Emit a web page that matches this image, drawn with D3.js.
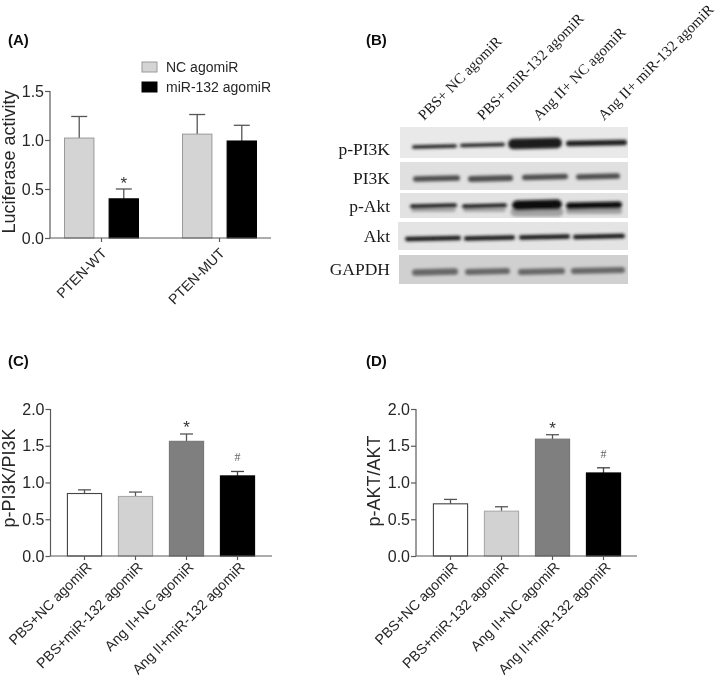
<!DOCTYPE html>
<html><head><meta charset="utf-8">
<script src="https://cdn.jsdelivr.net/npm/d3@7"></script>
<style>
html,body{margin:0;padding:0;background:#fff}
svg{display:block}
text{font-family:"Liberation Sans",Arial,sans-serif;fill:#262626}
.serif{font-family:"Liberation Serif","Times New Roman",serif;fill:#1a1a1a}
</style></head><body>
<svg id="c" width="720" height="680"></svg>
<script>
// ---- data ----
const lucGroups = ["PTEN-WT","PTEN-MUT"];
const lucSeries = ["NC agomiR","miR-132 agomiR"];
const lucNC = [1.02,1.06];
const lucNCTop = [1.24,1.26];
const lucMiR = [0.40,0.99];
const lucMiRTop = [0.50,1.15];
const lucMarks = ["","*","",""];
const lucTicks = [0,0.5,1,1.5];

const treatments = ["PBS+NC agomiR","PBS+miR-132 agomiR","Ang II+NC agomiR","Ang II+miR-132 agomiR"];
const pi3kValues = [0.85,0.81,1.56,1.09];
const pi3kTops = [0.90,0.87,1.66,1.15];
const aktValues = [0.71,0.61,1.59,1.13];
const aktTops = [0.77,0.67,1.65,1.20];
const ratioMarks = ["","","*","#"];
const ratioTicks = [0,0.5,1,1.5,2];

const blotLanes = ["PBS+ NC agomiR","PBS+ miR-132 agomiR","Ang II+ NC agomiR","Ang II+ miR-132 agomiR"];
const blotRows = ["p-PI3K","PI3K","p-Akt","Akt","GAPDH"];
const pPI3KDensity = [0.32,0.30,0.95,0.50];
const PI3KDensity = [0.52,0.55,0.50,0.52];
const pAktDensity = [0.36,0.36,0.90,0.62];
const AktDensity = [0.42,0.42,0.40,0.42];
const GAPDHDensity = [0.60,0.55,0.55,0.55];

// ---- helpers ----
const svg = d3.select("#c");
const defs = svg.append("defs");
defs.append("filter").attr("id","soft").attr("x","-5%").attr("y","-5%").attr("width","110%").attr("height","110%")
  .append("feGaussianBlur").attr("stdDeviation",0.3);
const bandBlur = defs.append("filter").attr("id","band").attr("filterUnits","userSpaceOnUse")
  .attr("x",380).attr("y",110).attr("width",260).attr("height",190);
bandBlur.append("feGaussianBlur").attr("stdDeviation",1.4);
const root = svg.append("g").attr("filter","url(#soft)");
const AX = "#5a5a5a";

function styleAxis(g){
  g.selectAll("path,line").attr("stroke",AX).attr("stroke-width",1.2);
  g.selectAll("text").style("font-family",'"Liberation Sans",Arial,sans-serif').attr("fill","#262626");
}
function drawAxes(o){
  const yA = d3.axisLeft(o.y).tickValues(o.ticks).tickFormat(d3.format(".1f")).tickSize(5).tickPadding(1);
  const gy = root.append("g").attr("transform",`translate(${o.left},0)`).call(yA);
  gy.selectAll("text").style("font-size","16px");
  styleAxis(gy);
  gy.select(".domain").attr("d",`M0,${o.y.range()[1]}V${o.y.range()[0]}`);
  gy.selectAll(".tick line").attr("x1",-5).attr("x2",0);
  const gx = root.append("g").attr("transform",`translate(0,${o.y(0)})`);
  gx.append("line").attr("x1",o.left).attr("x2",o.right).attr("stroke",AX).attr("stroke-width",1.2);
  gx.selectAll("line.t").data(o.cats).join("line").attr("class","t")
    .attr("x1",o.cx).attr("x2",o.cx).attr("y1",0).attr("y2",4).attr("stroke",AX).attr("stroke-width",1.2);
  gx.selectAll("text").data(o.cats).join("text")
    .attr("text-anchor","end").style("font-size",o.lblSize)
    .attr("transform",d=>`translate(${o.cx(d)+o.lblDx},${o.lblDy}) rotate(-45)`).text(d=>d);
  root.append("text").attr("transform",`translate(${o.titleX},${o.titleY}) rotate(-90)`)
    .attr("text-anchor","middle").style("font-size","18px").text(o.title);
}
function errorBar(x,y0,y1,cap,stroke){
  const g = root.append("g").attr("stroke",stroke).attr("stroke-width",1.3).attr("fill","none");
  g.append("line").attr("x1",x).attr("x2",x).attr("y1",y0).attr("y2",y1);
  g.append("line").attr("x1",x-cap/2).attr("x2",x+cap/2).attr("y1",y1).attr("y2",y1);
}
function mark(x,y,s){
  if(!s) return;
  const hash = s==="#";
  root.append("text").attr("x",x).attr("y",y).attr("text-anchor","middle")
    .attr("class",hash?"serif":null)
    .style("font-size",hash?"12px":"17px").style("fill",hash?"#666":"#333").text(s);
}
function label(t,x,y){
  root.append("text").attr("x",x).attr("y",y).style("font-size","15px").style("font-weight","bold").style("fill","#111").text(t);
}

// ---- panel A ----
(function(){
  const y = d3.scaleLinear().domain([0,1.5]).range([238,91]);
  const gx = d3.scaleBand().domain(lucGroups).range([42.5,278.5]);
  const inner = d3.scaleBand().domain(lucSeries).range([22,96]).paddingInner(0.34);
  const styles = {"NC agomiR":["#d4d4d4","#9a9a9a"],"miR-132 agomiR":["#000","#000"]};
  const rows = [];
  lucGroups.forEach((g,i)=>{
    rows.push({g,s:lucSeries[0],v:lucNC[i],t:lucNCTop[i]});
    rows.push({g,s:lucSeries[1],v:lucMiR[i],t:lucMiRTop[i]});
  });
  rows.forEach((d,i)=>{
    const x = gx(d.g)+inner(d.s), c = x+inner.bandwidth()/2;
    errorBar(c,y(d.v),y(d.t),16,"#555");
    root.append("rect").attr("x",x).attr("y",y(d.v)).attr("width",inner.bandwidth()).attr("height",y(0)-y(d.v))
      .attr("fill",styles[d.s][0]).attr("stroke",styles[d.s][1]).attr("stroke-width",1);
    mark(c,y(d.t),lucMarks[i]);
  });
  drawAxes({y,ticks:lucTicks,left:50,right:271,cats:lucGroups,cx:d=>gx(d)+gx.bandwidth()/2,lblDx:6,lblDy:16,lblSize:"14px",
    title:"Luciferase activity",titleX:15,titleY:162});
  const ly = d3.scaleBand().domain(lucSeries).range([57,97]);
  lucSeries.forEach(s=>{
    root.append("rect").attr("x",142).attr("y",ly(s)+5).attr("width",15).attr("height",10)
      .attr("fill",styles[s][0]).attr("stroke",styles[s][1]);
    root.append("text").attr("x",166).attr("y",ly(s)+15).style("font-size","14px").text(s);
  });
  label("(A)",8,45);
})();

// ---- panels C, D ----
function ratioPanel(values,tops,o){
  const y = d3.scaleLinear().domain([0,2]).range([556,409]);
  const x = d3.scaleBand().domain(treatments).range(o.range).paddingInner(0.33).paddingOuter(0.165);
  const fills = ["#fff","#d2d2d2","#7f7f7f","#000"];
  const strokes = ["#444","#aaa","#777","#000"];
  treatments.forEach((t,i)=>{
    const c = x(t)+x.bandwidth()/2;
    errorBar(c,y(values[i]),y(tops[i]),13,i===3?"#444":"#555");
    root.append("rect").attr("x",x(t)).attr("y",y(values[i])).attr("width",x.bandwidth()).attr("height",y(0)-y(values[i]))
      .attr("fill",fills[i]).attr("stroke",strokes[i]).attr("stroke-width",1.1);
    mark(c,y(tops[i])-(ratioMarks[i]==="#"?10:1),ratioMarks[i]);
  });
  drawAxes({y,ticks:ratioTicks,left:o.left,right:o.right,cats:treatments,cx:d=>x(d)+x.bandwidth()/2,lblDx:8,lblDy:12,lblSize:"14.2px",
    title:o.title,titleX:o.titleX,titleY:o.titleY});
  label(o.label,o.labelX,366);
}
ratioPanel(pi3kValues,pi3kTops,{range:[59,263],left:50.5,right:272,title:"p-PI3K/PI3K",titleX:15,titleY:478,label:"(C)",labelX:8});
ratioPanel(aktValues,aktTops,{range:[425,629],left:416,right:637,title:"p-AKT/AKT",titleX:380,titleY:481,label:"(D)",labelX:366});

// ---- panel B: western blot ----
(function(){
  label("(B)",366,45);
  const headX = d3.scaleOrdinal().domain(blotLanes).range([424,483,539,604]);
  root.selectAll("text.h").data(blotLanes).join("text").attr("class","h serif")
    .attr("transform",d=>`translate(${headX(d)},121) rotate(-45)`).style("font-size","15px").text(d=>d);

  const thick = d3.scaleLinear().domain([0,1]).range([0,11]);
  const laneL = d3.scaleOrdinal().domain(blotLanes).range([0,1,2,3]);
  const layouts = {
    "p-PI3K":{d:pPI3KDensity,x0:400,x1:628,y0:127,y1:158,bg:"#e9e9e9",col:"#1c1c1c",base:155,cy:[146.5,145,143.5,143],
      s:[412,460,508,566],e:[457,505,562,627]},
    "PI3K":  {d:PI3KDensity,x0:400,x1:628,y0:162,y1:190,bg:"#e0e0e0",col:"#4e4e4e",base:184,cy:[178.5,178.5,177,176.5],
      s:[413,468,522,576],e:[460,513,568,620]},
    "p-Akt": {d:pAktDensity,x0:400,x1:628,y0:193,y1:218,bg:"#e2e2e2",col:"#0c0c0c",base:212,cy:[206,206,205,205.5],ghost:"#a2a2a2",
      s:[410,462,512,566],e:[457,507,562,622]},
    "Akt":   {d:AktDensity,x0:398,x1:628,y0:222,y1:250,bg:"#e4e4e4",col:"#161616",base:242,cy:[238.5,238,237,236.5],
      s:[405,464,519,573],e:[461,515,570,625]},
    "GAPDH": {d:GAPDHDensity,x0:399,x1:628,y0:255,y1:284,bg:"#d0d0d0",col:"#666",base:275,cy:[272,271.5,271.5,270.5],
      s:[412,465,518,571],e:[458,510,565,625]}
  };
  blotRows.forEach(r=>{
    const L = layouts[r];
    const id = "clip"+blotRows.indexOf(r);
    defs.append("clipPath").attr("id",id).append("rect").attr("x",L.x0).attr("y",L.y0).attr("width",L.x1-L.x0).attr("height",L.y1-L.y0);
    root.append("rect").attr("x",L.x0).attr("y",L.y0).attr("width",L.x1-L.x0).attr("height",L.y1-L.y0).attr("fill",L.bg);
    const g = root.append("g").attr("clip-path",`url(#${id})`).append("g").attr("filter","url(#band)");
    blotLanes.forEach((lane,i)=>{
      const k = laneL(lane), s = L.s[k], e = L.e[k], w = thick(L.d[i]);
      if(L.ghost){
        g.append("line").attr("x1",s+3).attr("x2",e-3).attr("y1",L.cy[k]+w/2+2).attr("y2",L.cy[k]+w/2+2)
          .attr("stroke",L.ghost).attr("stroke-width",w*0.9).attr("stroke-linecap","round");
      }
      g.append("line").attr("x1",s+w/2).attr("x2",e-w/2).attr("y1",L.cy[k]+0.5).attr("y2",L.cy[k]-0.5)
        .attr("stroke",L.col).attr("stroke-width",w).attr("stroke-linecap","round");
    });
    root.append("text").attr("class","serif").attr("x",390).attr("y",L.base).attr("text-anchor","end")
      .style("font-size","17.5px").text(r);
  });
})();
</script></body></html>
